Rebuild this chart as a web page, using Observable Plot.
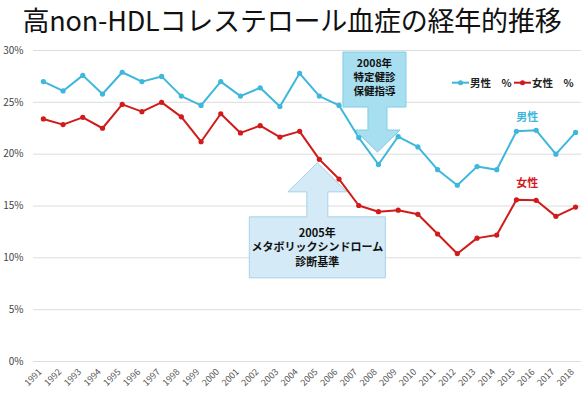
<!DOCTYPE html>
<html><head><meta charset="utf-8">
<script src="https://cdn.jsdelivr.net/npm/d3@7"></script>
<script src="https://cdn.jsdelivr.net/npm/@observablehq/plot@0.6"></script>
<style>
body{margin:0;background:#fff;width:581px;height:394px;overflow:hidden;font-family:"Noto Sans CJK JP","Noto Sans",sans-serif}
#title{height:40px;line-height:40px;font-size:27px;text-align:center;color:#111;white-space:nowrap;letter-spacing:-0.2px;padding-left:3px}
#chart svg{display:block}
</style></head><body>
<div id="title">高non-HDLコレステロール血症の経年的推移</div>
<div id="chart"></div>
<script>
// ---- data ----
const years = [1991,1992,1993,1994,1995,1996,1997,1998,1999,2000,2001,2002,2003,2004,2005,2006,2007,2008,2009,2010,2011,2012,2013,2014,2015,2016,2017,2018];
const male = [27.0,26.1,27.6,25.8,27.9,27.0,27.5,25.6,24.7,27.0,25.6,26.4,24.6,27.8,25.6,24.7,21.6,19.0,21.7,20.7,18.5,17.0,18.8,18.5,22.2,22.3,20.0,22.1];
const female = [23.4,22.85,23.55,22.5,24.8,24.1,25.0,23.6,21.2,23.9,22.05,22.75,21.65,22.2,19.5,17.6,15.05,14.45,14.6,14.2,12.3,10.4,11.9,12.2,15.6,15.55,14.0,14.9];
const seriesNames = ["男性","女性"];
const seriesColors = ["#3db7dc","#d11b1b"];
const legendLabels = ["男性　%","女性　%"];
const yTicks = [0,5,10,15,20,25,30];
const annoLines2008 = ["2008年","特定健診","保健指導"];
const annoLines2005 = ["2005年","メタボリックシンドローム","診断基準"];

const rows = [];
years.forEach((yr,i)=>{
  rows.push({year:yr, value:male[i], series:seriesNames[0]});
  rows.push({year:yr, value:female[i], series:seriesNames[1]});
});
const maleLabel = rows.filter(d=>d.year===2016 && d.series===seriesNames[0]);
const femaleLabel = rows.filter(d=>d.year===2016 && d.series===seriesNames[1]);

function annotations(index, scales, values, dims){
  const x = scales.x, y = scales.y;
  const g = d3.create("svg:g").attr("font-family",'"Noto Sans CJK JP",sans-serif');
  // 2005 up arrow
  {
    const tx = x(2005)-1.5, ty = y(female[years.indexOf(2005)])+4;
    const hb = ty+29, bt = ty+54, bb = ty+115, hw=29.5, sw=10.5, bl=tx-68, br=tx+68;
    const pts = [[tx,ty],[tx+hw,hb],[tx+sw,hb],[tx+sw,bt],[br,bt],[br,bb],[bl,bb],[bl,bt],[tx-sw,bt],[tx-sw,hb],[tx-hw,hb]];
    g.append("path").attr("d","M"+pts.join("L")+"Z").attr("fill","#d4eaf6").attr("stroke","#a6d2e8").attr("stroke-width",1);
    annoLines2005.forEach((s,i)=>g.append("text").attr("text-anchor","middle").attr("font-size",11).attr("font-weight","bold").attr("fill","#111")
      .attr("x",tx).attr("y",bt+20+i*14.5).text(s));
  }
  // 2008 down arrow
  {
    const tx = x(2008)-0.5, ty = y(male[years.indexOf(2008)])-12;
    const hb = ty-22, bb = ty-45, bt = ty-100, hw=22.5, sw=9.5, bl=tx-34.5, br=tx+28.5;
    const pts = [[tx,ty],[tx+hw,hb],[tx+sw,hb],[tx+sw,bb],[br,bb],[br,bt],[bl,bt],[bl,bb],[tx-sw,bb],[tx-sw,hb],[tx-hw,hb]];
    g.append("path").attr("d","M"+pts.join("L")+"Z").attr("fill","#a7dff0").attr("stroke","#7fcde3").attr("stroke-width",1);
    const cx = (bl+br)/2;
    annoLines2008.forEach((s,i)=>g.append("text").attr("text-anchor","middle").attr("font-size",10.5).attr("font-weight","bold").attr("fill","#111")
      .attr("x",cx).attr("y",bt+15+i*14).text(s));
  }
  // legend
  const lx = [452,514], ly = 42.7;
  seriesNames.forEach((s,i)=>{
    g.append("line").attr("x1",lx[i]).attr("x2",lx[i]+17).attr("y1",ly).attr("y2",ly).attr("stroke",seriesColors[i]).attr("stroke-width",2);
    g.append("circle").attr("cx",lx[i]+8.5).attr("cy",ly).attr("r",2.5).attr("fill",seriesColors[i]);
    g.append("text").attr("text-anchor","start").attr("x",lx[i]+18).attr("y",ly+3.8).attr("font-size",10.5).attr("font-weight","bold").attr("fill","#222").text(legendLabels[i]);
  });
  return g.node();
}

const chart = Plot.plot({
  width: 581,
  height: 354,
  marginTop: 10,
  marginBottom: 33,
  marginLeft: 33,
  marginRight: 0,
  style: {fontFamily: '"Noto Sans CJK JP","Noto Sans",sans-serif', background: "#fff"},
  x: {domain: [1990.5, 2018.3], axis: null},
  y: {domain: [0, 30], axis: null},
  color: {domain: seriesNames, range: seriesColors},
  marks: [
    Plot.gridY(yTicks, {stroke: "#dcdcdc", strokeOpacity: 1, strokeWidth: 1}),
    Plot.axisY(yTicks, {tickSize: 0, tickPadding: 10, fontSize: 10, fill: "#444", label: null, tickFormat: d => d + "%"}),
    Plot.axisX(years, {tickSize: 0, tickRotate: -45, fontSize: 9, fill: "#555", label: null, tickFormat: d => String(d), dx: -3, dy: -3}),
    annotations,
    Plot.line(rows, {x: "year", y: "value", z: "series", stroke: "series", strokeWidth: 2}),
    Plot.dot(rows, {x: "year", y: "value", fill: "series", r: 2.6}),
    Plot.text(maleLabel, {x: "year", y: "value", text: "series", fill: "series", dx: -9, dy: -13, fontSize: 11, fontWeight: "bold"}),
    Plot.text(femaleLabel, {x: "year", y: "value", text: "series", fill: "series", dx: -9, dy: -17, fontSize: 11, fontWeight: "bold"})
  ]
});
document.getElementById("chart").appendChild(chart);
</script>
</body></html>
